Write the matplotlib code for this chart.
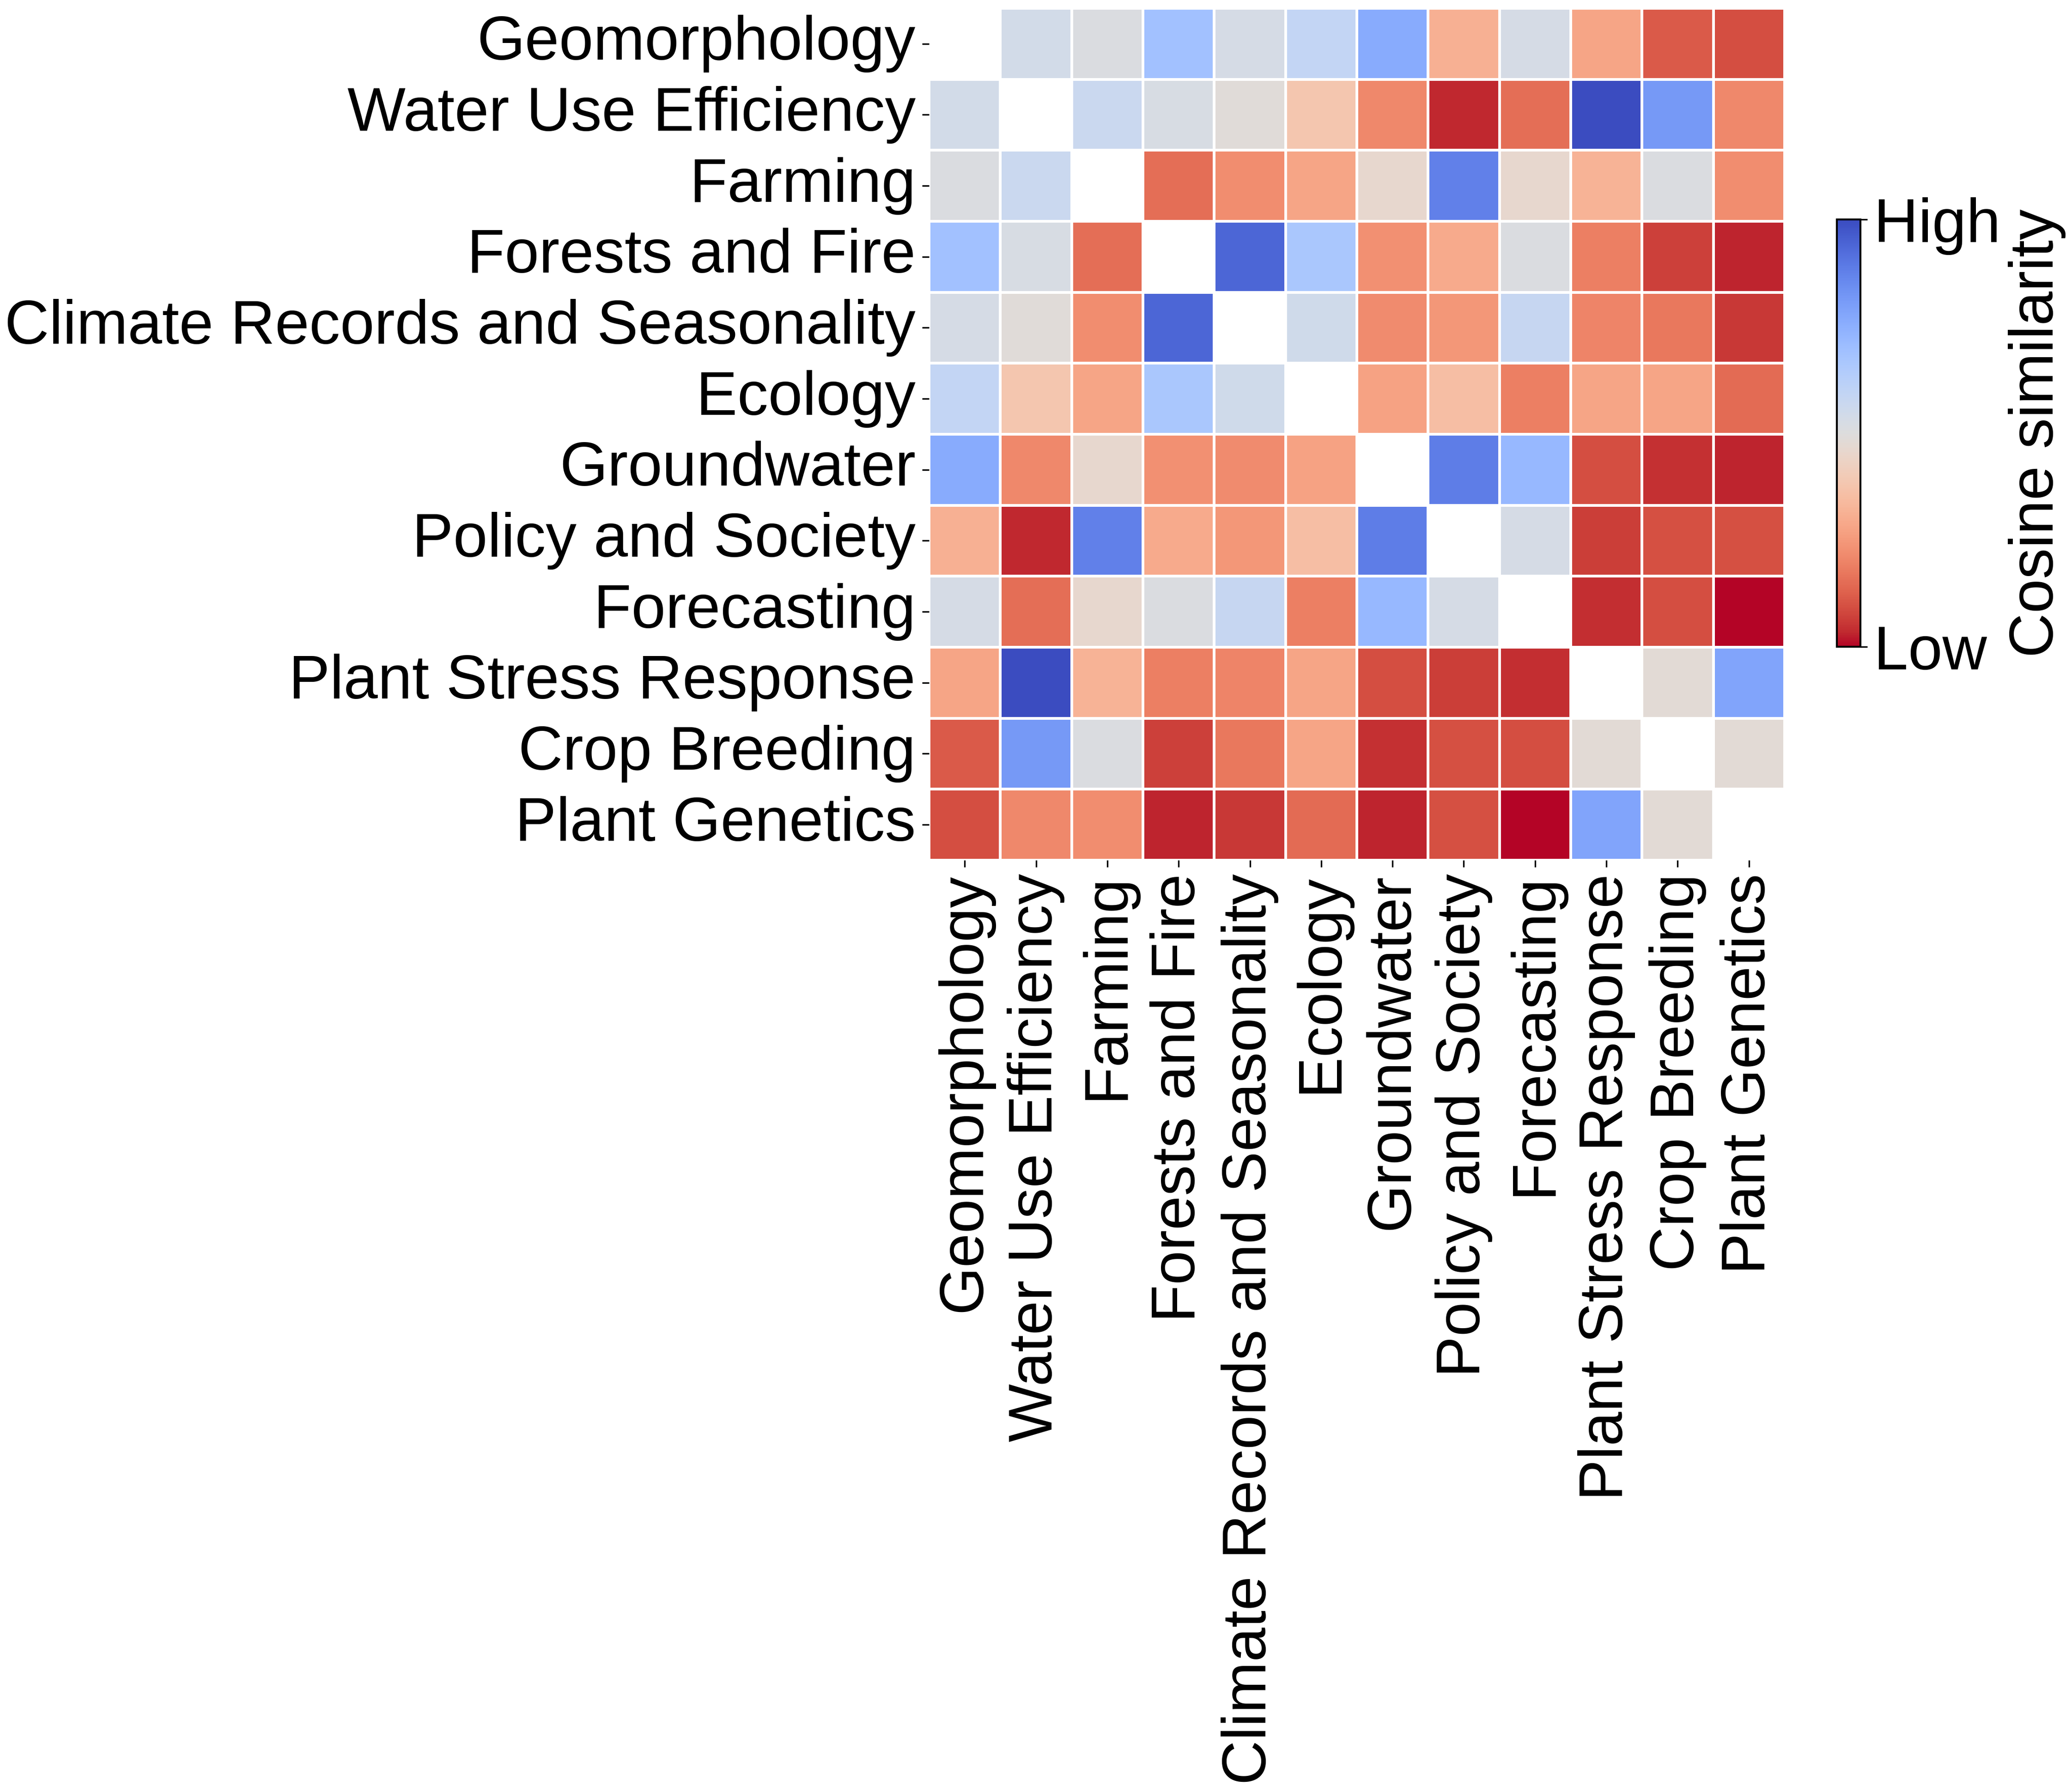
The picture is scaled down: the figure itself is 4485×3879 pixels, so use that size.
import numpy as np
import matplotlib
matplotlib.use("Agg")
import matplotlib.pyplot as plt
import seaborn as sns

plt.rcParams['font.family'] = ['Liberation Sans', 'DejaVu Sans']

topics = ["Geomorphology", "Water Use Efficiency", "Farming", "Forests and Fire",
          "Climate Records and Seasonality", "Ecology", "Groundwater",
          "Policy and Society", "Forecasting", "Plant Stress Response",
          "Crop Breeding", "Plant Genetics"]

nan = np.nan
row_geomorphology = [nan, 0.54, 0.51, 0.69, 0.53, 0.59, 0.765, 0.31, 0.53, 0.28, 0.115, 0.09]
row_water_use     = [0.54, nan, 0.57, 0.52, 0.485, 0.38, 0.21, 0.035, 0.155, 1.0, 0.815, 0.21]
row_farming       = [0.51, 0.57, nan, 0.155, 0.22, 0.28, 0.46, 0.875, 0.46, 0.32, 0.51, 0.22]
row_forests       = [0.69, 0.52, 0.155, nan, 0.94, 0.665, 0.23, 0.295, 0.51, 0.19, 0.07, 0.03]
row_climate       = [0.53, 0.485, 0.22, 0.94, nan, 0.55, 0.215, 0.245, 0.58, 0.20, 0.175, 0.055]
row_ecology       = [0.59, 0.38, 0.28, 0.665, 0.55, nan, 0.27, 0.355, 0.19, 0.28, 0.28, 0.145]
row_groundwater   = [0.765, 0.21, 0.46, 0.23, 0.215, 0.27, nan, 0.885, 0.72, 0.09, 0.045, 0.03]
row_policy        = [0.31, 0.035, 0.875, 0.295, 0.245, 0.355, 0.885, nan, 0.53, 0.065, 0.095, 0.095]
row_forecasting   = [0.53, 0.155, 0.46, 0.51, 0.58, 0.19, 0.72, 0.53, nan, 0.04, 0.09, 0.0]
row_plant_stress  = [0.28, 1.0, 0.32, 0.19, 0.20, 0.28, 0.09, 0.065, 0.04, nan, 0.48, 0.785]
row_crop_breeding = [0.115, 0.815, 0.51, 0.07, 0.175, 0.28, 0.045, 0.095, 0.09, 0.48, nan, 0.48]
row_plant_genetic = [0.09, 0.21, 0.22, 0.03, 0.055, 0.145, 0.03, 0.095, 0.0, 0.785, 0.48, nan]

matrix = np.array([row_geomorphology, row_water_use, row_farming, row_forests,
                   row_climate, row_ecology, row_groundwater, row_policy,
                   row_forecasting, row_plant_stress, row_crop_breeding,
                   row_plant_genetic])
mask = np.eye(len(topics), dtype=bool)
vmin, vmax = np.nanmin(matrix), np.nanmax(matrix)

fig = plt.figure(figsize=(14.95, 12.93), dpi=300)
ax = fig.add_axes([0.4484, 0.5200, 0.4129, 0.4754])
cax = fig.add_axes([0.8866, 0.6390, 0.0113, 0.2385])

sns.heatmap(matrix, mask=mask, cmap="coolwarm_r", vmin=vmin, vmax=vmax,
            linewidths=1, linecolor="white", ax=ax, cbar_ax=cax,
            xticklabels=topics, yticklabels=topics)

ax.set_xticklabels(topics, rotation=90, fontsize=32)
ax.set_yticklabels(topics, rotation=0, fontsize=32)

cbar = ax.collections[0].colorbar
cbar.set_ticks([vmin, vmax])
cbar.set_ticklabels(["Low", "High"])
cbar.ax.tick_params(labelsize=32)
cbar.set_label("Cosine similarity", fontsize=32)
cbar.outline.set_visible(True)
cbar.outline.set_edgecolor("black")
cbar.outline.set_linewidth(1.0)

fig.savefig("out.png", dpi=300)
